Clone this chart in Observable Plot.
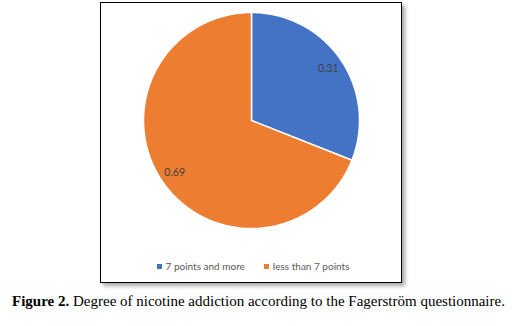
<!DOCTYPE html>
<html><head><meta charset="utf-8">
<script src="https://cdn.jsdelivr.net/npm/d3@7"></script>
<script src="https://cdn.jsdelivr.net/npm/@observablehq/plot@0.6"></script>
<style>
body{margin:0;background:#fff;width:517px;height:326px;position:relative;overflow:hidden}
#box{position:absolute;left:100px;top:2px;width:300px;height:279px;border:1px solid #000;box-shadow:3px 3px 4px rgba(0,0,0,0.35);background:#fff}
#legend{position:absolute;left:2px;top:257px;width:300px;display:flex;justify-content:center;gap:19px;font-family:Lato,"Open Sans",sans-serif;font-size:10px;color:#595959}
#legend span.sw{display:inline-block;width:5px;height:5px;margin-right:4px;vertical-align:1px}
#caption{position:absolute;left:0;top:293px;width:517px;text-align:center;font-family:"Liberation Serif","Times New Roman",serif;font-size:15px;line-height:17px;color:#000}
</style></head><body>
<div id="box"><div id="chart"></div><div id="legend"></div></div>
<div id="caption"><b>Figure 2.</b> Degree of nicotine addiction according to the Fagerström questionnaire.</div>
<script>
const categories = ["7 points and more", "less than 7 points"];
const values = [0.31, 0.69];
const labels = ["0.31", "0.69"];
const colors = ["#4472C4", "#ED7D31"];

const pie = d3.pie().sort(null).value(d => d.value)(categories.map((c, i) => ({cat: c, value: values[i], label: labels[i]})));
const pts = [];
pie.forEach(s => {
  pts.push({cat: s.data.cat, x: 0, y: 0});
  const n = 120;
  for (let k = 0; k <= n; k++) {
    const a = s.startAngle + (s.endAngle - s.startAngle) * k / n;
    pts.push({cat: s.data.cat, x: Math.sin(a), y: Math.cos(a)});
  }
});
const lab = pie.map(s => { const a = (s.startAngle + s.endAngle) / 2; return {x: 0.86 * Math.sin(a), y: 0.86 * Math.cos(a), label: s.data.label}; });

const chart = Plot.plot({
  width: 300, height: 250,
  marginLeft: 42, marginRight: 42, marginTop: 9, marginBottom: 25,
  x: {domain: [-1, 1], axis: null},
  y: {domain: [-1, 1], axis: null},
  color: {domain: categories, range: colors},
  marks: [
    Plot.line(pts, {x: "x", y: "y", z: "cat", fill: "cat", stroke: "white", strokeWidth: 1.5, curve: "linear-closed"}),
    Plot.text(lab, {x: "x", y: "y", text: "label", fill: "#404040", fontSize: 10.5, fontFamily: "Lato, 'Open Sans', sans-serif"})
  ]
});
document.getElementById("chart").appendChild(chart);
const lg = document.getElementById("legend");
categories.forEach((c, i) => {
  const d = document.createElement("div");
  d.innerHTML = `<span class="sw" style="background:${colors[i]}"></span>${c}`;
  lg.appendChild(d);
});
</script>
</body></html>
